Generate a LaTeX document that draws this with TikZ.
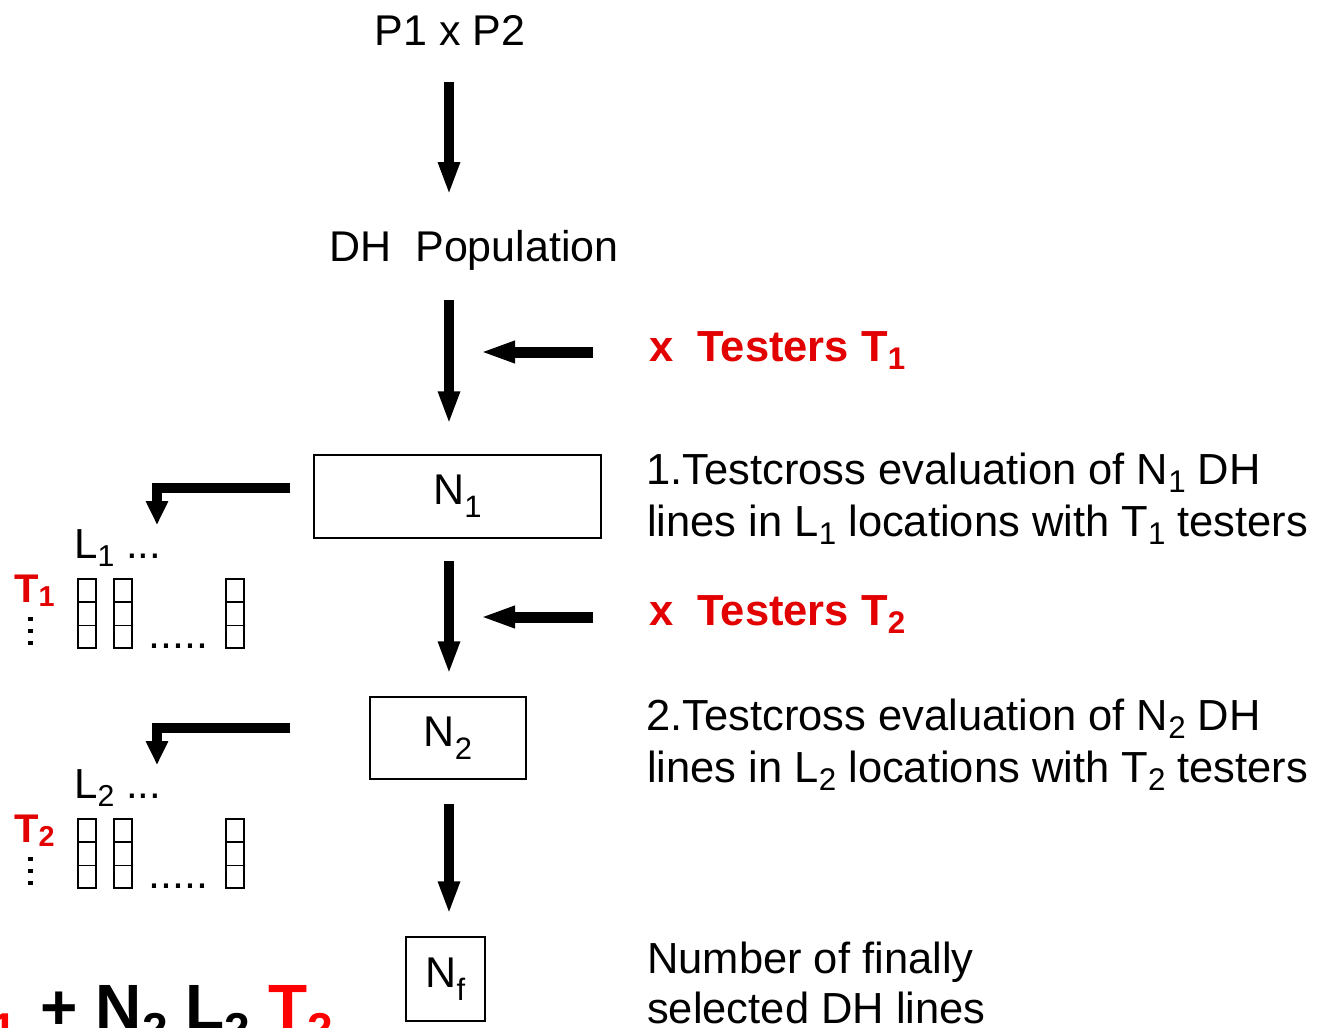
\documentclass[tikz,border=0pt]{standalone}
\usepackage{fontspec}
\setmainfont{Liberation Sans}
\usepackage{graphicx}
\usetikzlibrary{arrows.meta}
\definecolor{tred}{RGB}{226,0,0}
\definecolor{bred}{RGB}{255,0,0}
\newcommand\sbx[2][0.2em]{\raisebox{-#1}{\scalebox{0.72}{#2}}}
\begin{document}
\begin{tikzpicture}[x=1pt,y=-1pt,
  txt/.style={inner sep=0pt, anchor=base west, font=\fontsize{43}{50}\selectfont},
  dtxt/.style={inner sep=0pt, anchor=base west, font=\fontsize{43.5}{50}\selectfont},
  ctxt/.style={inner sep=0pt, anchor=base, font=\fontsize{43}{50}\selectfont},
  rtxt/.style={inner sep=0pt, anchor=base west, text=tred, font=\fontsize{43.5}{50}\selectfont\bfseries},
  box/.style={draw, line width=1.5pt, inner sep=0pt, font=\fontsize{43}{50}\selectfont},
  blk/.style={line width=10pt, -{Triangle[width=20pt,length=33pt]}},
  hblk/.style={line width=11pt, -{Triangle[width=20pt,length=35pt]}},
  elb/.style={line width=10pt, line join=miter, -{Triangle[width=21pt,length=24pt]}},
  cell/.style={line width=1.5pt},
  ldot/.style={fill=black}]
\useasboundingbox (0,0) rectangle (1326,1028);
\fill[white] (0,0) rectangle (1326,1028);
\coordinate (ax) at (449,0);

% main column
\node[ctxt] (p) at (450,45) {P1 x P2};
\node[ctxt] (dh) at (474,261) {DH\ \ Population};
\node[box, minimum width=287pt, minimum height=83pt] (n1) at (457.5,496.5) {N\sbx[0.3em]{1}\hspace{12pt}};
\node[box, minimum width=156pt, minimum height=82pt] (n2) at (448,738) {N\sbx[0.3em]{2}};
\node[box, minimum width=79pt, minimum height=84pt] (nf) at (445.5,979) {N\sbx[0.3em]{f}};

\draw[blk] ([yshift=-37pt]ax |- p.base) -- ([yshift=66pt]ax |- dh.base);
\draw[blk] ([yshift=-39pt]ax |- dh.base) -- ([yshift=30pt]ax |- n1.north);
\draw[blk] ([yshift=-22pt]ax |- n1.south) -- ([yshift=22pt]ax |- n2.north);
\draw[blk] ([yshift=-24pt]ax |- n2.south) -- ([yshift=22pt]ax |- nf.north);

% testers
\node[rtxt] (tt1) at (649,361) {x\ \ Testers T\sbx{1}};
\node[rtxt] (tt2) at (649,625) {x\ \ Testers T\sbx{2}};
\draw[hblk] ([xshift=-56pt,yshift=9pt]tt1.base west) -- ([xshift=31pt,yshift=9pt]ax |- tt1.base west);
\draw[hblk] ([xshift=-56pt,yshift=8pt]tt2.base west) -- ([xshift=31pt,yshift=8pt]ax |- tt2.base west);

% right descriptions
\node[dtxt] (d1a) at (646,484) {1.Testcross evaluation of N\sbx{1} DH};
\node[dtxt] (d1b) at (647,536) {lines in L\sbx{1} locations with T\sbx{1} testers};
\node[dtxt] (d2a) at (646,730) {2.Testcross evaluation of N\sbx{2} DH};
\node[dtxt] (d2b) at (647,782) {lines in L\sbx{2} locations with T\sbx{2} testers};
\node[dtxt] (d3a) at (647,973) {Number of finally};
\node[dtxt] (d3b) at (647,1023) {selected DH lines};

% left groups
\foreach \g/\dy in {1/0,2/240}{
  \node[txt, font=\fontsize{42}{50}\selectfont] (l\g) at (74,558+\dy) {L\sbx{\g} ...};
  \node[rtxt, font=\fontsize{40}{50}\selectfont\bfseries] (t\g) at (14,602+\dy) {T\sbx[0.1em]{\g}};
  \foreach \cx in {78,114,226}{
    \draw[cell] (\cx,579+\dy) rectangle ++(18,69);
    \draw[cell] (\cx,602+\dy) -- ++(18,0);
    \draw[cell] (\cx,625.5+\dy) -- ++(18,0);
  }
  \node[txt] (dots\g) at (148,648+\dy) {.....};
  \foreach \vy in {619,631,643}{
    \fill[ldot] (28,\vy-2+\dy) rectangle ++(5,4);
  }
}
\draw[elb] ([xshift=-23pt,yshift=8.5pt]n1.west) -| ([xshift=83pt,yshift=33pt]l1.base west);
\draw[elb] ([xshift=-79pt,yshift=10pt]n2.west) -| ([xshift=83pt,yshift=33pt]l2.base west);

% bottom formula (clipped by the page edge)
\node[inner sep=0pt, anchor=base east, font=\fontsize{64}{70}\selectfont\bfseries] (sum) at (333,1029)
  {N\sbx[0.26em]{1} L\sbx[0.26em]{1} \textcolor{bred}{T\sbx[0.26em]{1}}\hspace{24pt}+ N\sbx[0.26em]{2} L\sbx[0.26em]{2} \textcolor{bred}{T\sbx[0.26em]{2}}};
\end{tikzpicture}
\end{document}
